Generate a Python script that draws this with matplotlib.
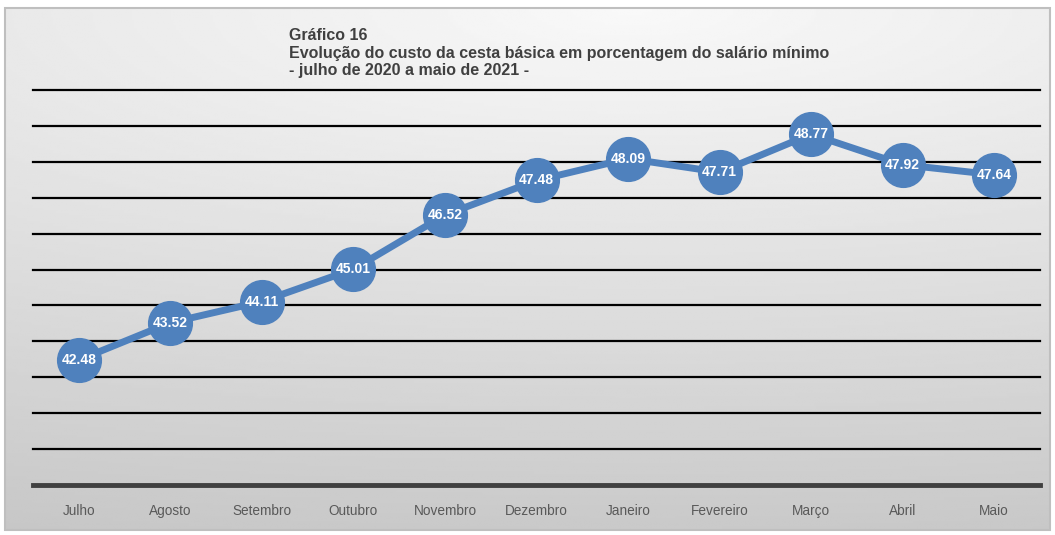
import matplotlib
matplotlib.use("Agg")
import matplotlib.pyplot as plt
import numpy as np
from matplotlib.patches import Rectangle

months = ["Julho", "Agosto", "Setembro", "Outubro", "Novembro", "Dezembro",
          "Janeiro", "Fevereiro", "Março", "Abril", "Maio"]
values = [42.48, 43.52, 44.11, 45.01, 46.52, 47.48, 48.09, 47.71, 48.77, 47.92, 47.64]
title_lines = ["Gráfico 16",
               "Evolução do custo da cesta básica em porcentagem do salário mínimo",
               "- julho de 2020 a maio de 2021 -"]

plt.rcParams['font.family'] = ['Liberation Sans', 'DejaVu Sans']

W, H = 1055, 535
fig = plt.figure(figsize=(W/100, H/100), dpi=100, facecolor='white')

# background gradient inside border
bx0, by0, bw, bh = 5/W, 1 - 530/H, 1045/W, 522/H
bg = fig.add_axes([0, 0, 1, 1], zorder=-10)
yy, xx = np.mgrid[1:0:200j, 0:1:400j]
d = np.sqrt(((xx - 0.6) * 0.55) ** 2 + ((yy - 1.0) * 1.0) ** 2)
d = d / 1.05
light, dark = 0.975, 0.78
img = light - (light - dark) * d
bg.imshow(img, cmap='gray', vmin=0, vmax=1, extent=[bx0, bx0 + bw, by0, by0 + bh],
          aspect='auto', origin='upper')
bg.set_xlim(0, 1); bg.set_ylim(0, 1)
bg.axis('off')
bg.add_patch(Rectangle((bx0, by0), bw, bh, fill=False,
                       edgecolor='#bfbfbf', linewidth=1.5))

ax = fig.add_axes([33/W, 1 - 485/H, (1040-33)/W, (485-90)/H])
ax.patch.set_alpha(0)
x = np.arange(len(months))
ax.set_xlim(-0.5, len(months) - 0.5)
ax.set_ylim(39, 50)
for g in range(40, 51):
    ax.axhline(g, color='black', linewidth=1.6, zorder=1, clip_on=False)
for s in ['top', 'right', 'left']:
    ax.spines[s].set_visible(False)
ax.spines['bottom'].set_color('#404040')
ax.spines['bottom'].set_linewidth(3.5)
ax.set_yticks([])
ax.set_xticks(x)
ax.set_xticklabels(months, fontsize=9.8, color='#595959')
ax.tick_params(axis='x', length=0, pad=14)

ax.plot(x, values, color='#4f81bd', linewidth=5, marker='o', markersize=31.5,
        markerfacecolor='#4f81bd', markeredgecolor='#4f81bd', zorder=3, clip_on=False)
for xi, v in zip(x, values):
    ax.text(xi, v, f"{v:.2f}", ha='center', va='center', color='white',
            fontsize=10, fontweight='bold', zorder=4)

for i, t in enumerate(title_lines):
    fig.text(289/W, 1 - (36 + i*17.5)/H, t, ha='left', va='center', fontsize=11.5,
             fontweight='bold', color='#404040')

fig.savefig("out.png", dpi=100, facecolor='white')
